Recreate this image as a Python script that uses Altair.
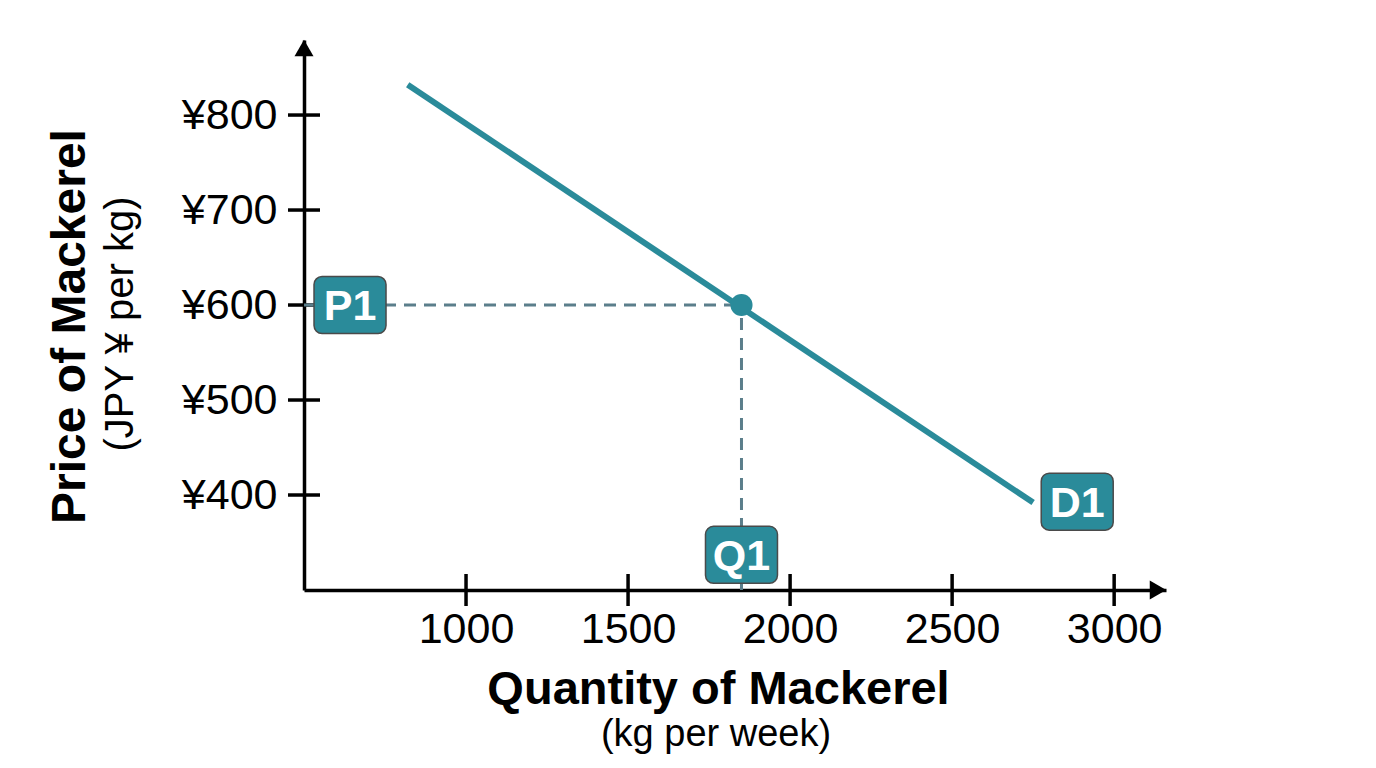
import altair as alt
import pandas as pd

# values
QUANTITY_TICKS = [1000, 1500, 2000, 2500, 3000]
PRICE_TICKS = [400, 500, 600, 700, 800]
DEMAND_Q = [820, 2750]
DEMAND_P = [832, 392]
EQ_Q = [1850]
EQ_P = [600]
TAG_TEXT = ["P1", "Q1", "D1"]
TAG_Q = [642, 1850, 2886]
TAG_P = [600, 337, 393]

Q_MIN, Q_MAX = 500, 3160
P_MIN, P_MAX = 300, 879

FONT = "Liberation Sans"
TEAL = "#2a8b9a"
DASH = "#5b7e8b"

xscale = alt.Scale(domain=[Q_MIN, Q_MAX], nice=False, zero=False)
yscale = alt.Scale(domain=[P_MIN, P_MAX], nice=False, zero=False)

xaxis = alt.Axis(
    title="Quantity of Mackerel", values=QUANTITY_TICKS, format="d", grid=False,
    ticks=False, tickSize=0, domainColor="black", domainWidth=3.5, labelFont=FONT,
    labelFontSize=43, labelColor="black", labelPadding=18, labelFlush=False,
    labelOverlap=False, titleFont=FONT, titleFontSize=47, titleFontWeight="bold",
    titleColor="black", titleX=414, titleY=113, titleBaseline="alphabetic",
    titleAlign="center",
)
yaxis = alt.Axis(
    title="Price of Mackerel", values=PRICE_TICKS, labelExpr="'¥' + datum.value",
    grid=False, ticks=False, tickSize=0, domainColor="black", domainWidth=3.5,
    labelFont=FONT, labelFontSize=43, labelColor="black", labelPadding=27,
    labelFlush=False, labelOverlap=False, titleFont=FONT, titleFontSize=48,
    titleFontWeight="bold", titleColor="black", titleAngle=270, titleX=-220,
    titleY=286, titleBaseline="alphabetic", titleAlign="center",
)

X = alt.X("q:Q", scale=xscale, axis=xaxis)
Y = alt.Y("p:Q", scale=yscale, axis=yaxis)

demand = pd.DataFrame({"q": DEMAND_Q, "p": DEMAND_P})
eq = pd.DataFrame({"q": EQ_Q, "p": EQ_P})
tags = pd.DataFrame({"q": TAG_Q, "p": TAG_P, "tag": TAG_TEXT})
xticks = pd.DataFrame({"q": QUANTITY_TICKS, "p": [P_MIN] * len(QUANTITY_TICKS)})
yticks = pd.DataFrame({"q": [Q_MIN] * len(PRICE_TICKS), "p": PRICE_TICKS})
guides = pd.DataFrame({
    "q": [Q_MIN, EQ_Q[0]], "q2": [EQ_Q[0], EQ_Q[0]],
    "p": [EQ_P[0], P_MIN], "p2": [EQ_P[0], EQ_P[0]],
})
arrows = pd.DataFrame({"q": [Q_MIN, Q_MAX], "p": [P_MAX, P_MIN]})

x_ticks = alt.Chart(xticks).mark_tick(
    orient="vertical", size=32, thickness=3.5, color="black", opacity=1
).encode(x=X, y=Y)
y_ticks = alt.Chart(yticks).mark_tick(
    orient="horizontal", size=32, thickness=3.5, color="black", opacity=1
).encode(x=X, y=Y)

arrow_up = alt.Chart(arrows.iloc[[0]]).mark_point(
    shape="triangle-up", filled=True, size=361, color="black", opacity=1, yOffset=8
).encode(x=X, y=Y)
arrow_right = alt.Chart(arrows.iloc[[1]]).mark_point(
    shape="triangle-right", filled=True, size=361, color="black", opacity=1, xOffset=-8
).encode(x=X, y=Y)

dashed = alt.Chart(guides).mark_rule(
    color=DASH, strokeWidth=3, strokeDash=[12, 8]
).encode(x=X, x2="q2:Q", y=Y, y2="p2:Q")

line = alt.Chart(demand).mark_line(color=TEAL, strokeWidth=6).encode(x=X, y=Y)

dot = alt.Chart(eq).mark_circle(color=TEAL, size=490, opacity=1).encode(x=X, y=Y)

boxes = alt.Chart(tags).mark_rect(
    width=72, height=57, cornerRadius=8, fill=TEAL, stroke="#4a4a4a", strokeWidth=1.5
).encode(x=X, y=Y)
box_text = alt.Chart(tags).mark_text(
    font=FONT, fontSize=43, fontWeight="bold", color="white", baseline="middle", dy=2
).encode(x=X, y=Y, text="tag:N")

x_sub = alt.Chart(pd.DataFrame({"t": ["(kg per week)"]})).mark_text(
    font=FONT, fontSize=38, color="black", align="center", baseline="alphabetic"
).encode(x=alt.value(412), y=alt.value(706), text="t:N")
y_sub = alt.Chart(pd.DataFrame({"t": ["(JPY ¥ per kg)"]})).mark_text(
    font=FONT, fontSize=40, color="black", align="center", baseline="alphabetic",
    angle=270,
).encode(x=alt.value(-171), y=alt.value(284), text="t:N")

chart = alt.layer(
    x_ticks, y_ticks, arrow_up, arrow_right, dashed, line, dot, boxes, box_text,
    x_sub, y_sub,
).properties(
    width=862, height=550, background="white",
    padding={"left": 296, "top": 32, "right": 10, "bottom": 168},
    autosize=alt.AutoSizeParams(type="none"),
).configure_view(stroke=None, strokeWidth=0)

chart.save("out.html", embed_options={"renderer": "svg", "actions": False})
